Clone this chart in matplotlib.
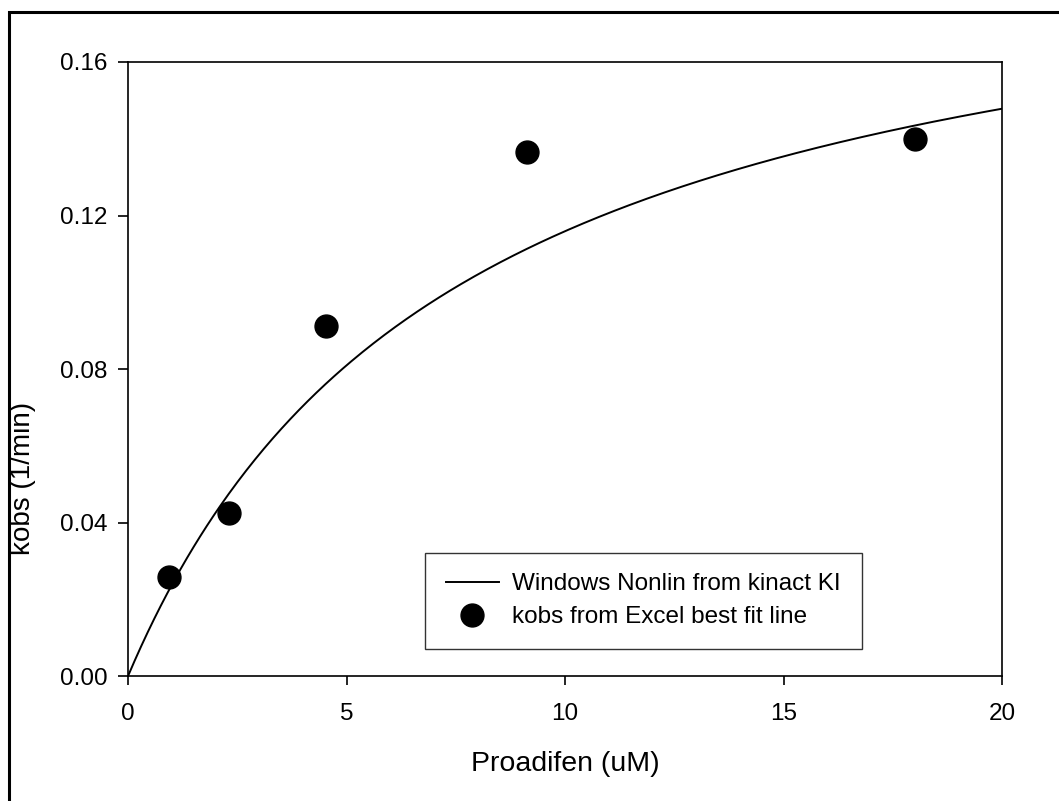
import numpy as np
import matplotlib
matplotlib.use("Agg")
import matplotlib.pyplot as plt
from matplotlib.patches import Rectangle

plt.rcParams["font.family"] = ["Liberation Sans", "DejaVu Sans"]

# Observed kobs values
proadifen_uM = [0.94, 2.32, 4.52, 9.12, 18.0]
kobs = [0.0258, 0.0425, 0.0912, 0.1365, 0.1399]

# Nonlinear fit parameters (kinact, KI) for the curve
kinact = 0.204
KI = 7.6
x_fit = np.linspace(0, 20, 400)
y_fit = kinact * x_fit / (KI + x_fit)

x_ticks = [0, 5, 10, 15, 20]
y_ticks = [0.00, 0.04, 0.08, 0.12, 0.16]

fig = plt.figure(figsize=(10.59, 8.01), dpi=100)
ax = fig.add_axes([0.1209, 0.156, 0.8253, 0.7666])

# outer frame of the figure (cut off at right/bottom)
fig.patches.append(Rectangle((0.0085, -0.1), 1.2, 1.0855, transform=fig.transFigure,
                             fill=False, edgecolor="black", linewidth=2.2))

ax.plot(x_fit, y_fit, color="black", linewidth=1.4, label="Windows Nonlin from kinact KI")
ax.plot(proadifen_uM, kobs, "o", color="black", markersize=16.5, linestyle="none",
        label="kobs from Excel best fit line")

ax.set_xlim(0, 20)
ax.set_ylim(0, 0.16)
ax.set_xticks(x_ticks)
ax.set_yticks(y_ticks)
ax.set_xticklabels([str(t) for t in x_ticks])
ax.set_yticklabels([f"{t:.2f}" for t in y_ticks])
ax.tick_params(axis="x", direction="out", length=6.5, width=1.2, labelsize=17.5, pad=13)
ax.tick_params(axis="y", direction="out", length=7, width=1.2, labelsize=17.5, pad=8)
for sp in ax.spines.values():
    sp.set_linewidth(1.2)

fig.text(0.5335, 0.046, "Proadifen (uM)", ha="center", va="center", fontsize=20.5)
fig.text(0.022, 0.403, "kobs (1/min)", ha="center", va="center", rotation=90, fontsize=20)

leg = ax.legend(loc="lower left", bbox_to_anchor=(425 / 1059, 1 - 649 / 801),
                bbox_transform=fig.transFigure, fontsize=17.5, frameon=True,
                fancybox=False, edgecolor="black", handlelength=2.2,
                handletextpad=0.55, borderpad=0.85, labelspacing=0.45,
                borderaxespad=0, markerscale=1.0)
leg.get_frame().set_linewidth(1.0)

fig.savefig("out.png", dpi=100)
